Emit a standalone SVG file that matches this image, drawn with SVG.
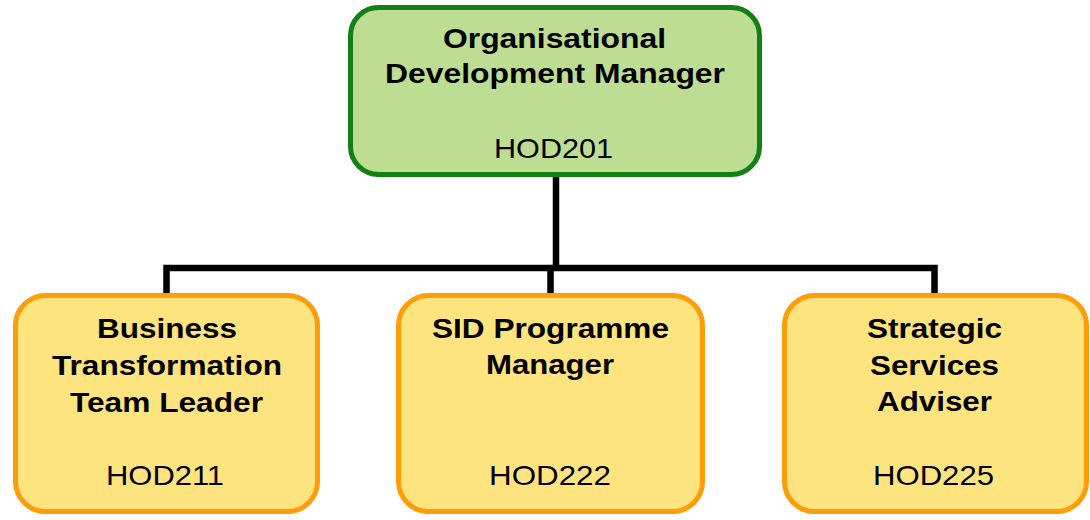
<svg xmlns="http://www.w3.org/2000/svg" width="1090" height="520" viewBox="0 0 1090 520">
<style>
.top{fill:#bcdd92;stroke:#128012;stroke-width:5}
.child{fill:#fee47e;stroke:#ff9c0a;stroke-width:5}
.t{font-family:"Liberation Sans",Arial,sans-serif;font-size:28px;fill:#000;text-anchor:middle}
.b{font-weight:bold}
.conn{fill:none;stroke:#000;stroke-width:6.5;stroke-linejoin:miter}
</style>
<rect width="1090" height="520" fill="#fff"/>
<g id="connectors">
<line class="conn" x1="556" y1="176" x2="556" y2="268" stroke-width="7.5"/>
<path class="conn" d="M166.5 294 V268 H934.5 V294"/>
<line class="conn" x1="550.5" y1="268" x2="550.5" y2="294"/>
</g>
<g id="node-hod201">
<rect class="top" x="350.5" y="7.5" width="409" height="167" rx="28"/>
<text class="t b" x="554.5" y="48" textLength="223" lengthAdjust="spacingAndGlyphs">Organisational</text>
<text class="t b" x="555" y="83" textLength="340" lengthAdjust="spacingAndGlyphs">Development Manager</text>
<text class="t" x="553.5" y="158" textLength="119" lengthAdjust="spacingAndGlyphs">HOD201</text>
</g>
<g id="node-hod211">
<rect class="child" x="15.5" y="295.5" width="302" height="216" rx="30"/>
<text class="t b" x="167" y="338" textLength="140" lengthAdjust="spacingAndGlyphs">Business</text>
<text class="t b" x="167" y="375" textLength="230" lengthAdjust="spacingAndGlyphs">Transformation</text>
<text class="t b" x="166.5" y="412" textLength="193" lengthAdjust="spacingAndGlyphs">Team Leader</text>
<text class="t" x="165" y="485" textLength="118" lengthAdjust="spacingAndGlyphs">HOD211</text>
</g>
<g id="node-hod222">
<rect class="child" x="398.5" y="295.5" width="304" height="216" rx="30"/>
<text class="t b" x="550.5" y="338" textLength="237" lengthAdjust="spacingAndGlyphs">SID Programme</text>
<text class="t b" x="550" y="374" textLength="128" lengthAdjust="spacingAndGlyphs">Manager</text>
<text class="t" x="550" y="485" textLength="122" lengthAdjust="spacingAndGlyphs">HOD222</text>
</g>
<g id="node-hod225">
<rect class="child" x="784.5" y="295.5" width="302" height="216" rx="30"/>
<text class="t b" x="934.5" y="338" textLength="135" lengthAdjust="spacingAndGlyphs">Strategic</text>
<text class="t b" x="934.5" y="375" textLength="129" lengthAdjust="spacingAndGlyphs">Services</text>
<text class="t b" x="934.5" y="411" textLength="115" lengthAdjust="spacingAndGlyphs">Adviser</text>
<text class="t" x="933.5" y="485" textLength="121" lengthAdjust="spacingAndGlyphs">HOD225</text>
</g>
</svg>
